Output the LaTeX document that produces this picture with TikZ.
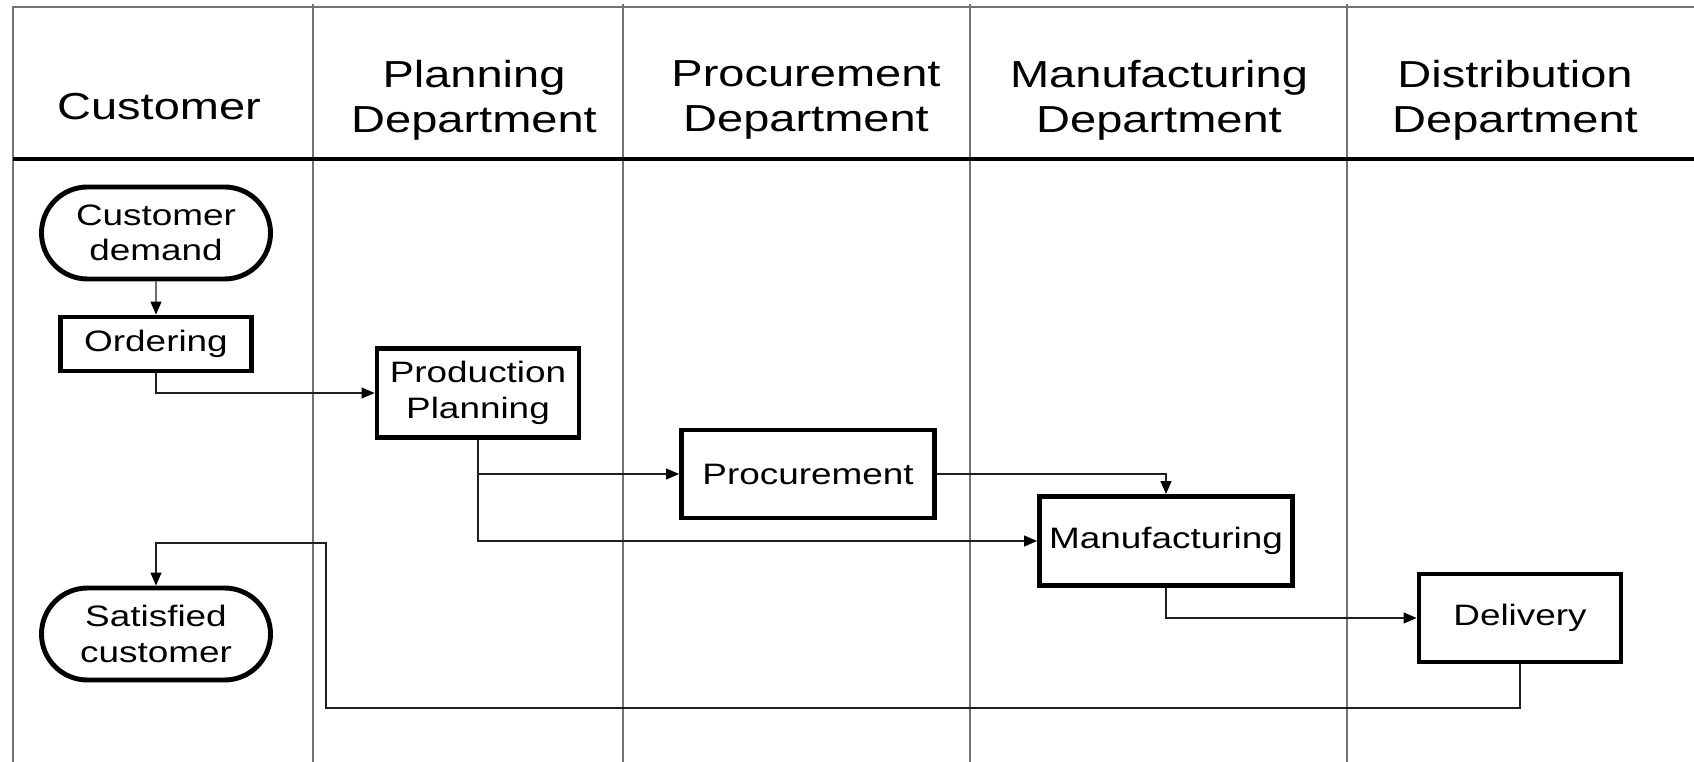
\documentclass[tikz,border=0pt]{standalone}
\usepackage{fontspec}
\setmainfont[FakeStretch=1.25]{Liberation Sans}
\usetikzlibrary{arrows.meta,shapes.misc}
\definecolor{laneline}{rgb}{0.45, 0.45, 0.45}
\definecolor{flowline}{rgb}{0.12, 0.12, 0.12}

\begin{document}
\begin{tikzpicture}[x=0.1mm,y=-0.1mm,
        lane/.style={draw=laneline,line width=0.5pt},
        head/.style={align=center,font=\fontsize{10.7}{12.9}\selectfont},
        task/.style={draw,line width=1.4pt,align=center,inner sep=0pt,
            font=\fontsize{8.4}{10.1}\selectfont},
        term/.style={task,rounded rectangle,minimum width=22.9mm,minimum height=9.2mm},
        flow/.style={draw=flowline,line width=0.35pt,-{Triangle[length=1.3mm,width=1.1mm,color=black]}}]
        \useasboundingbox (0,0) rectangle (1694,762);
        % frame and lanes
        \draw[lane] (1694,7) -- (13,7) -- (13,762);
        \foreach \x in {313,623,970,1347}{
            \draw[lane] (\x,4) -- (\x,762);
        }
        \draw[line width=1.15pt] (13,159) -- (1694,159);
        \foreach \x/\y/\name/\txt in {159/107/customerhead/Customer,
                474/100/planninghead/{Planning\\Department},
                806/100/procurementhead/{Procurement\\Department},
                1159/100/manufacturinghead/{Manufacturing\\Department},
                1515/100/distributionhead/{Distribution\\Department}}{
            \node[head] (\name) at (\x,\y) {\txt};
        }
        % steps
        \node[term] (demand) at (156,233) {Customer\\demand};
        \node[task,minimum width=19.1mm,minimum height=5.4mm] (ordering) at (156,344) {Ordering};
        \node[task,minimum width=20.2mm,minimum height=8.9mm] (planning) at (478,393) {Production\\Planning};
        \node[task,minimum width=25.3mm,minimum height=8.8mm] (procure) at (808,474) {Procurement};
        \node[task,minimum width=25.3mm,minimum height=8.9mm] (manufacture) at (1166,541) {Manufacturing};
        \node[task,minimum width=20.2mm,minimum height=8.8mm] (delivery) at (1520,618) {Delivery};
        \node[term] (satisfied) at (156,634) {Satisfied\\customer};
        \coordinate (backlow) at (326,708);
        \coordinate (backhigh) at (326,543);
        % flows
        \draw[flow] (demand) -- (ordering);
        \draw[flow] (ordering.south) |- (planning.west);
        \draw[flow] (planning.south) |- (procure.west);
        \draw[flow] (planning.south) |- (manufacture.west);
        \draw[flow] (procure.east) -| (manufacture.north);
        \draw[flow] (manufacture.south) |- (delivery.west);
        \draw[flow] (delivery.south) |- (backlow) -- (backhigh) -| (satisfied.north);
    \end{tikzpicture}
\end{document}
